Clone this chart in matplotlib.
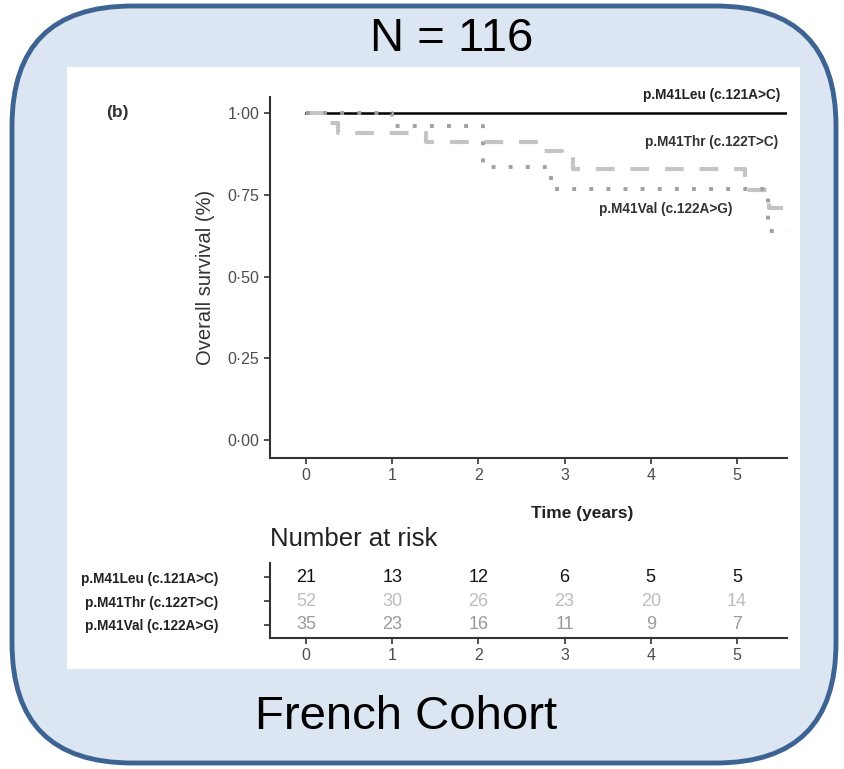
import matplotlib
matplotlib.use("Agg")
import matplotlib.pyplot as plt
from matplotlib import patches

plt.rcParams['font.family'] = ['Liberation Sans', 'DejaVu Sans']

# survival curves (time in years, survival proportion)
leu_t = [0, 5.58]
leu_s = [1.0, 1.0]
thr_t = [0, 0.27, 0.37, 1.39, 2.76, 2.97, 3.10, 5.09, 5.37, 5.58]
thr_s = [1.0, 0.97, 0.94, 0.91, 0.885, 0.865, 0.83, 0.765, 0.71, 0.71]
val_t = [0, 1.0, 2.05, 2.84, 5.36, 5.58]
val_s = [1.0, 0.96, 0.835, 0.768, 0.64, 0.64]

groups = ['p.M41Leu (c.121A>C)', 'p.M41Thr (c.122T>C)', 'p.M41Val (c.122A>G)']
risk_times = [0, 1, 2, 3, 4, 5]
risk_leu = [21, 13, 12, 6, 5, 5]
risk_thr = [52, 30, 26, 23, 20, 14]
risk_val = [35, 23, 16, 11, 9, 7]

W, H = 845, 769
fig = plt.figure(figsize=(W / 100, H / 100), dpi=100)

# background box in pixel coordinates
bg = fig.add_axes([0, 0, 1, 1])
bg.set_xlim(0, W)
bg.set_ylim(H, 0)
bg.axis('off')
box = patches.FancyBboxPatch((12, 6), 824, 757,
                             boxstyle="round,pad=0,rounding_size=120",
                             facecolor='#dce6f2', edgecolor='#3d6392', linewidth=3.5)
bg.add_patch(box)
bg.add_patch(patches.Rectangle((67, 67), 733, 602, facecolor='white', edgecolor='none'))
bg.text(452, 39, 'N = 116', ha='center', va='center', fontsize=34)
bg.text(406, 717, 'French Cohort', ha='center', va='center', fontsize=34)
bg.text(117, 113, '(b)', ha='center', va='center', fontsize=12.5, fontweight='bold', color='#333333')
bg.text(270, 539, 'Number at risk', ha='left', va='center', fontsize=18.5, color='#222222')

def fx(px):
    return px / W

def fy(py):
    return 1 - py / H

spine_col = '#333333'
lab_font = ['Liberation Sans Narrow', 'Liberation Sans', 'DejaVu Sans']

# main survival plot
ax = fig.add_axes([fx(270), fy(458), fx(787) - fx(270), fy(97) - fy(458)])
ax.step(leu_t, leu_s, where='post', color='black', lw=1.8)
ax.step(thr_t, thr_s, where='post', color='#c4c4c4', lw=3, linestyle=(0, (4.5, 3.8)))
ax.step(val_t, val_s, where='post', color='#a0a0a0', lw=2.8, linestyle=(0, (1, 3.4)))
ax.set_xlim(-0.418, 5.58)
ax.set_ylim(-0.055, 1.049)
ax.set_xticks(risk_times)
ax.set_yticks([0, 0.25, 0.5, 0.75, 1.0])
ax.set_yticklabels(['0·00', '0·25', '0·50', '0·75', '1·00'])
for s in ['top', 'right']:
    ax.spines[s].set_visible(False)
for s in ['left', 'bottom']:
    ax.spines[s].set_color(spine_col)
    ax.spines[s].set_linewidth(1.5)
ax.tick_params(colors=spine_col, labelcolor='#4d4d4d', labelsize=11.5, length=4, width=1.2)
ax.set_ylabel('Overall survival (%)', fontsize=14.5, color='#333333', labelpad=9)
ax.set_xlabel('Time (years)', fontsize=12.5, fontweight='bold', color='#222222')
ax.xaxis.set_label_coords(0.604, -0.132)

ax.text(5.5, 1.055, groups[0], ha='right', va='center', fontsize=9.8, fontweight='bold',
        family=lab_font, color='#222222')
ax.text(5.48, 0.911, groups[1], ha='right', va='center', fontsize=9.8, fontweight='bold',
        family=lab_font, color='#333333')
ax.text(4.95, 0.706, groups[2], ha='right', va='center', fontsize=9.8, fontweight='bold',
        family=lab_font, color='#333333')

# risk table
rt = fig.add_axes([fx(270), fy(638), fx(787) - fx(270), fy(563) - fy(638)])
rt.set_xlim(-0.418, 5.58)
rt.set_ylim(0.45, 3.6)
row_colors = ['#111111', '#bdbdbd', '#9a9a9a']
for row, (vals, c) in enumerate(zip([risk_leu, risk_thr, risk_val], row_colors)):
    yv = 3 - row
    for t, v in zip(risk_times, vals):
        rt.text(t, yv, str(v), ha='center', va='center', fontsize=13, color=c)
rt.set_yticks([3, 2, 1])
rt.set_yticklabels(groups, family=lab_font, fontweight='bold', fontsize=9.8, color='#222222')
rt.set_xticks(risk_times)
for s in ['top', 'right']:
    rt.spines[s].set_visible(False)
for s in ['left', 'bottom']:
    rt.spines[s].set_color(spine_col)
    rt.spines[s].set_linewidth(1.5)
rt.tick_params(axis='y', colors=spine_col, length=4, width=1.2, pad=33)
rt.tick_params(axis='x', colors=spine_col, labelcolor='#4d4d4d', labelsize=11.5, length=4, width=1.2)
for lbl in rt.get_yticklabels():
    lbl.set_color('#222222')

fig.savefig('out.png', dpi=100)
